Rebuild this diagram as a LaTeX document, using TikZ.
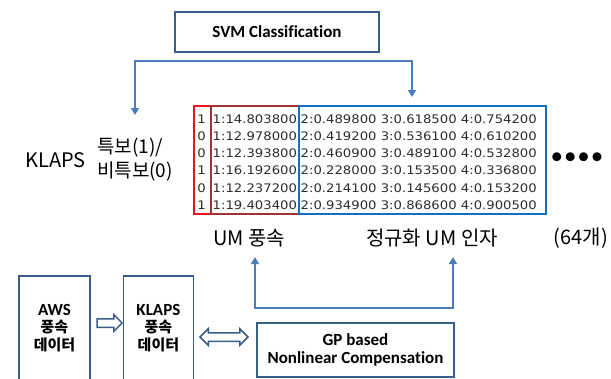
\documentclass[tikz,border=0pt]{standalone}
\usepackage{fontspec}
\usepackage{xcolor}
\usetikzlibrary{positioning,shapes.arrows,arrows.meta}
\setmainfont{Carlito}[Ligatures=NoCommon]
\newfontfamily\krfont{Noto Sans CJK KR}
\newfontfamily\numfont[FakeStretch=1.12]{DejaVu Sans}
\newfontfamily\dotfont[LetterSpace=-10]{DejaVu Sans}
\newcommand\krbox[1]{{\krfont\fontsize{15}{17.5}\selectfont #1}}
\definecolor{boxline}{RGB}{56,93,138}
\definecolor{linkblue}{RGB}{74,126,187}
\definecolor{labelred}{RGB}{235,20,30}
\definecolor{valuebrown}{RGB}{160,50,55}
\definecolor{featblue}{RGB}{20,110,195}
\definecolor{celltext}{RGB}{45,45,45}

\begin{document}
\begin{tikzpicture}[x=1pt, y=-1pt,
    box/.style={draw=boxline, line width=1.4pt, rectangle, align=center, inner sep=0pt, font=\bfseries\fontsize{17}{17.5}\selectfont},
    link/.style={draw=linkblue, line width=1.8pt, {Triangle[length=7pt,width=8pt]}-{Triangle[length=7pt,width=8pt]}},
    colbox/.style={line width=1.8pt, inner sep=0pt, minimum height=108pt, anchor=north west},
    cell/.style={inner sep=0pt, text=celltext, font=\numfont\fontsize{11.8}{14}\selectfont},
    lab/.style={inner sep=0pt, font=\krfont\fontsize{20}{24}\selectfont},
    hollow/.style={draw=boxline, line width=1.5pt, fill=white, inner xsep=0pt, inner ysep=3.5pt}]
    \useasboundingbox (0,0) rectangle (611,378);

    % classifier and its input table
    \node [box, minimum width=204pt, minimum height=40pt] (svm) at (277,32) {SVM Classification};

    \node [lab] (klapslab) at (55.5,160) {KLAPS};
    \node [lab, align=left, font=\krfont\fontsize{19}{24}\selectfont] (warnlab) at (135,160) {특보(1)/\\비특보(0)};

    \node [colbox, draw=labelred, minimum width=17pt] (labelcol) at (193,105) {};
    \node [colbox, draw=valuebrown, minimum width=88pt] (umcol) at (210,105) {};
    \node [colbox, draw=featblue, minimum width=247pt] (featcol) at (298,105) {};

    \foreach \c/\u/\f [count=\i] in {
        1/14.803800/2:0.489800 3:0.618500 4:0.754200,
        0/12.978000/2:0.419200 3:0.536100 4:0.610200,
        0/12.393800/2:0.460900 3:0.489100 4:0.532800,
        1/16.192600/2:0.228000 3:0.153500 4:0.336800,
        0/12.237200/2:0.214100 3:0.145600 4:0.153200,
        1/19.403400/2:0.934900 3:0.868600 4:0.900500} {
        \node [cell] (lab\i) at (201.5, {119+17.2*(\i-1)}) {\c};
        \node [cell, anchor=west] (um\i) at (212.5, {119+17.2*(\i-1)}) {1:\u};
        \node [cell, anchor=west] (feat\i) at (300.5, {119+17.2*(\i-1)}) {\f};
    }

    \node [inner sep=0pt, font=\dotfont\bfseries\fontsize{25}{25}\selectfont] (moredots) at (577,160) {••••};

    \node [lab] (umlab) at (249,238) {UM 풍속};
    \node [lab] (normlab) at (432,238) {정규화 UM 인자};
    \node [lab] (countlab) at (581,238) {(64개)};

    \coordinate (warnin) at (135,115);
    \coordinate (svmrail) at (412,61);
    \coordinate (tablein) at (412,97);
    \draw [link] (warnin) |- (svmrail) -- (tablein);

    % wind speed data and compensation
    \node [box, minimum width=71pt, minimum height=104pt] (awsbox) at (54.5,328) {AWS\\\krbox{풍속}\\\krbox{데이터}};
    \node [box, minimum width=70pt, minimum height=104pt, right=32pt of awsbox] (klapsbox) {KLAPS\\\krbox{풍속}\\\krbox{데이터}};
    \node [box, minimum width=197pt, minimum height=54pt] (gp) at (355.5,350) {GP based\\Nonlinear Compensation};

    \node [hollow, single arrow, minimum height=25pt, single arrow head extend=4pt] (awsto) at (107.5,323) {};
    \node [hollow, double arrow, minimum height=48pt, double arrow head extend=4pt] (klapsgp) at (224,337) {};

    \coordinate (umin) at (255,257);
    \coordinate (normin) at (453,257);
    \coordinate (gprail) at (453,308);
    \draw [link] (umin) |- (gprail) -- (normin);
\end{tikzpicture}
\end{document}
